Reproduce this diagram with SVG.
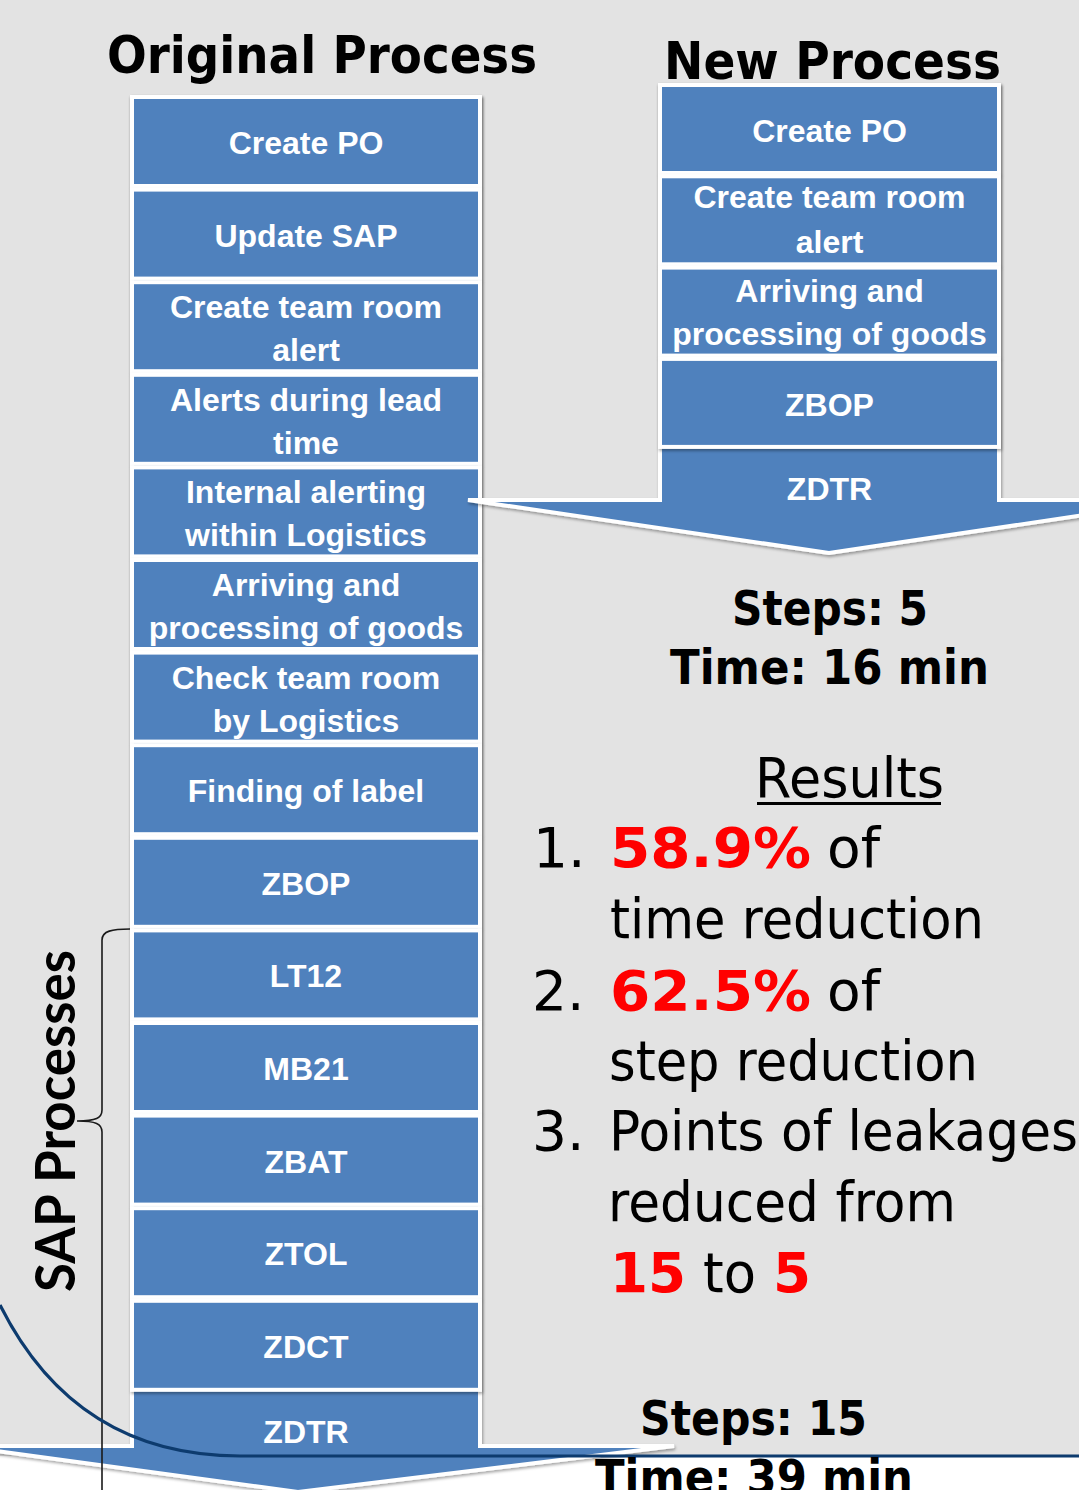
<svg xmlns="http://www.w3.org/2000/svg" width="1079" height="1490" viewBox="0 0 1079 1490">
  <defs>
    <filter id="sh" x="-10%" y="-10%" width="120%" height="120%">
      <feDropShadow dx="1" dy="2" stdDeviation="1.5" flood-color="#000" flood-opacity="0.35"/>
    </filter>
  </defs>
  <style>
    .box { fill: #4f81bd; stroke: #ffffff; stroke-width: 4; filter: url(#sh); }
    .arrow { fill: #4f81bd; stroke: #ffffff; stroke-width: 4; filter: url(#sh); }
    .bt { font-family: "Liberation Sans", Arial, sans-serif; font-weight: bold; font-size: 32px; fill: #ffffff; text-anchor: middle; }
    .title { font-family: "DejaVu Sans", Verdana, sans-serif; font-weight: bold; fill: #000; }
    .stat { font-family: "DejaVu Sans", Verdana, sans-serif; font-weight: bold; font-size: 48px; fill: #000; }
    .res { font-family: "DejaVu Sans", Verdana, sans-serif; font-size: 55px; fill: #000; }
    .red { font-family: "DejaVu Sans", Verdana, sans-serif; font-weight: bold; font-size: 56px; fill: #ff0000; }
    .sap { font-family: Lato, "Liberation Sans", sans-serif; font-weight: bold; font-size: 55px; fill: #000; }
  </style>

  <!-- background -->
  <rect x="0" y="0" width="1079" height="1490" fill="#ffffff"/>
  <rect x="0" y="0" width="1079" height="1456" fill="#e3e3e3"/>

  <!-- titles -->
  <text class="title" x="107" y="73" font-size="52" textLength="430" lengthAdjust="spacingAndGlyphs">Original Process</text>
  <text class="title" x="664" y="79" font-size="51" textLength="337" lengthAdjust="spacingAndGlyphs">New Process</text>

  <!-- original process arrow (shaft behind boxes) -->
  <g id="orig-arrow">
    <polygon class="arrow" points="132,97 480,97 480,1446 674,1446 298,1492 -40,1446 132,1446"/>
    <text class="bt" x="306" y="1443">ZDTR</text>
  </g>

  <!-- original process boxes -->
  <g id="o1"><rect class="box" x="132" y="97" width="348" height="89"/><text class="bt" x="306" y="154">Create PO</text></g>
  <g id="o2"><rect class="box" x="132" y="189.6" width="348" height="89"/><text class="bt" x="306" y="246.6">Update SAP</text></g>
  <g id="o3"><rect class="box" x="132" y="282.2" width="348" height="89"/><text class="bt" x="306" y="318.2">Create team room</text><text class="bt" x="306" y="361.2">alert</text></g>
  <g id="o4"><rect class="box" x="132" y="374.8" width="348" height="89"/><text class="bt" x="306" y="410.8">Alerts during lead</text><text class="bt" x="306" y="453.8">time</text></g>
  <g id="o5"><rect class="box" x="132" y="467.4" width="348" height="89"/><text class="bt" x="306" y="503.4">Internal alerting</text><text class="bt" x="306" y="546.4">within Logistics</text></g>
  <g id="o6"><rect class="box" x="132" y="560" width="348" height="89"/><text class="bt" x="306" y="596">Arriving and</text><text class="bt" x="306" y="639">processing of goods</text></g>
  <g id="o7"><rect class="box" x="132" y="652.6" width="348" height="89"/><text class="bt" x="306" y="688.6">Check team room</text><text class="bt" x="306" y="731.6">by Logistics</text></g>
  <g id="o8"><rect class="box" x="132" y="745.2" width="348" height="89"/><text class="bt" x="306" y="802.2">Finding of label</text></g>
  <g id="o9"><rect class="box" x="132" y="837.8" width="348" height="89"/><text class="bt" x="306" y="894.8">ZBOP</text></g>
  <g id="o10"><rect class="box" x="132" y="930.4" width="348" height="89"/><text class="bt" x="306" y="987.4">LT12</text></g>
  <g id="o11"><rect class="box" x="132" y="1023" width="348" height="89"/><text class="bt" x="306" y="1080">MB21</text></g>
  <g id="o12"><rect class="box" x="132" y="1115.6" width="348" height="89"/><text class="bt" x="306" y="1172.6">ZBAT</text></g>
  <g id="o13"><rect class="box" x="132" y="1208.2" width="348" height="89"/><text class="bt" x="306" y="1265.2">ZTOL</text></g>
  <g id="o14"><rect class="box" x="132" y="1300.8" width="348" height="89"/><text class="bt" x="306" y="1357.8">ZDCT</text></g>

  <!-- new process arrow -->
  <g id="new-arrow">
    <polygon class="arrow" points="660,85 999,85 999,500 1185,500 829,553 468,500 660,500"/>
    <text class="bt" x="829.5" y="500">ZDTR</text>
  </g>

  <!-- new process boxes -->
  <g id="n1"><rect class="box" x="660" y="85" width="339" height="88"/><text class="bt" x="829.5" y="141.7">Create PO</text></g>
  <g id="n2"><rect class="box" x="660" y="176.3" width="339" height="88"/><text class="bt" x="829.5" y="208.3">Create team room</text><text class="bt" x="829.5" y="253.3">alert</text></g>
  <g id="n3"><rect class="box" x="660" y="267.6" width="339" height="88"/><text class="bt" x="829.5" y="302">Arriving and</text><text class="bt" x="829.5" y="345">processing of goods</text></g>
  <g id="n4"><rect class="box" x="660" y="358.9" width="339" height="88"/><text class="bt" x="829.5" y="415.6">ZBOP</text></g>

  <!-- connectors: brace and decorative curve -->
  <g id="connectors" fill="none">
    <path d="M130,929 C112,929 102,931 102,940 L102,1110 C102,1118 96,1121 77,1121 C96,1121 102,1124 102,1132 L102,1490" stroke="#1a1a1a" stroke-width="1.6"/>
    <path d="M0,1305 C40,1385 110,1456 240,1456 L1079,1456" stroke="#0d3b6e" stroke-width="3.2"/>
  </g>

  <!-- SAP Processes label -->
  <g id="sap-label">
    <text class="sap" transform="translate(75,1121) rotate(-90)" x="0" y="0" text-anchor="middle" textLength="342" lengthAdjust="spacingAndGlyphs">SAP Processes</text>
  </g>

  <!-- stats -->
  <g id="new-stats">
    <text class="stat" x="732" y="625" textLength="196" lengthAdjust="spacingAndGlyphs">Steps: 5</text>
    <text class="stat" x="670" y="684" textLength="319" lengthAdjust="spacingAndGlyphs">Time: 16 min</text>
  </g>
  <g id="orig-stats">
    <text class="stat" x="640" y="1435" textLength="227" lengthAdjust="spacingAndGlyphs">Steps: 15</text>
    <text class="stat" x="595" y="1494" textLength="318" lengthAdjust="spacingAndGlyphs">Time: 39 min</text>
  </g>

  <!-- results -->
  <g id="results">
    <text class="res" x="755" y="797" font-size="58" textLength="189" lengthAdjust="spacingAndGlyphs">Results</text>
    <line x1="757" y1="803.5" x2="941" y2="803.5" stroke="#000" stroke-width="3"/>

    <text class="res" x="533" y="867">1.</text>
    <text class="red" x="610" y="867" textLength="201" lengthAdjust="spacingAndGlyphs">58.9%</text>
    <text class="res" x="827" y="867" textLength="53" lengthAdjust="spacingAndGlyphs">of</text>
    <text class="res" x="610" y="938" textLength="374" lengthAdjust="spacingAndGlyphs">time reduction</text>

    <text class="res" x="532" y="1010">2.</text>
    <text class="red" x="610" y="1010" textLength="201" lengthAdjust="spacingAndGlyphs">62.5%</text>
    <text class="res" x="827" y="1010" textLength="53" lengthAdjust="spacingAndGlyphs">of</text>
    <text class="res" x="609" y="1080" textLength="369" lengthAdjust="spacingAndGlyphs">step reduction</text>

    <text class="res" x="532" y="1150">3.</text>
    <text class="res" x="609" y="1150" textLength="469" lengthAdjust="spacingAndGlyphs">Points of leakages</text>
    <text class="res" x="608" y="1221" textLength="348" lengthAdjust="spacingAndGlyphs">reduced from</text>
    <text class="red" x="610" y="1292" textLength="76" lengthAdjust="spacingAndGlyphs">15</text>
    <text class="res" x="703" y="1292" textLength="53" lengthAdjust="spacingAndGlyphs">to</text>
    <text class="red" x="773" y="1292" textLength="38" lengthAdjust="spacingAndGlyphs">5</text>
  </g>
</svg>
